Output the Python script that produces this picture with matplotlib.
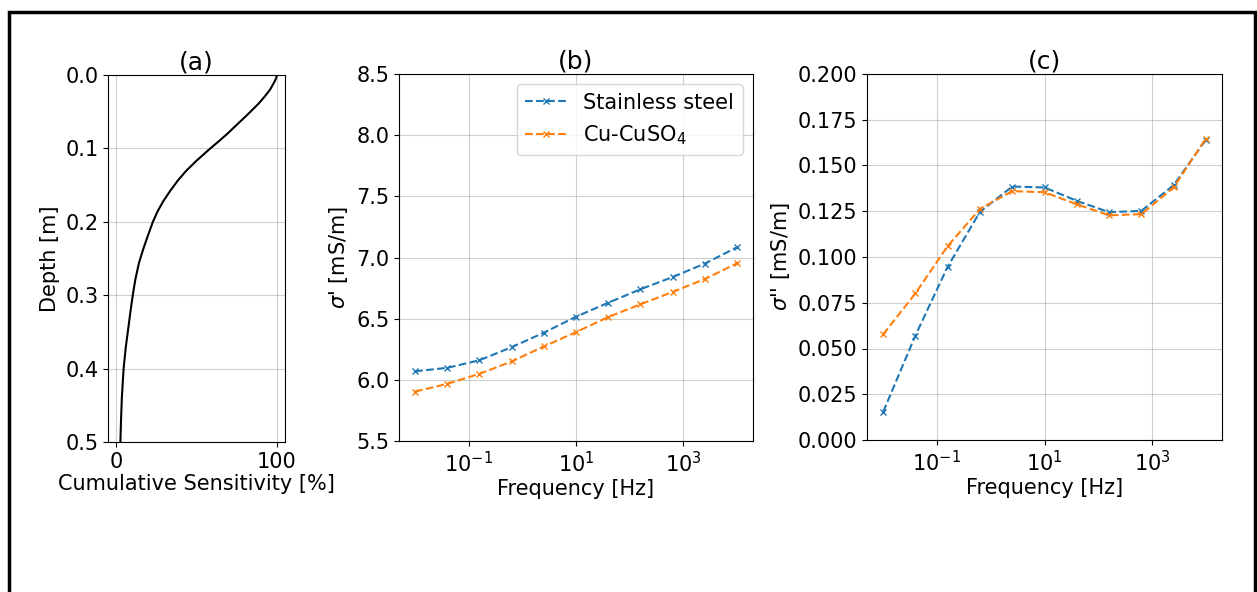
import numpy as np
import matplotlib
matplotlib.use("Agg")
import matplotlib.pyplot as plt
from matplotlib.patches import Rectangle

# (a) cumulative sensitivity vs depth
depth = [0.0, 0.005, 0.011, 0.020, 0.029, 0.0385, 0.0477, 0.0569, 0.066, 0.080,
         0.090, 0.1, 0.117, 0.1305, 0.144, 0.158, 0.1714, 0.185, 0.2, 0.2188,
         0.2372, 0.2555, 0.2784, 0.3, 0.32, 0.34, 0.37, 0.4, 0.44, 0.47, 0.5]
sens = [100.0, 99.4, 98.0, 95.7, 92.5, 88.8, 84.6, 80.3, 75.9, 69.2,
        64.0, 58.6, 49.9, 43.6, 38.3, 33.6, 29.5, 26.0, 22.9, 19.8,
        16.9, 14.3, 12.0, 10.4, 9.1, 7.9, 6.1, 4.7, 3.6, 3.1, 2.7]

# (b), (c) spectra
freq = [0.01, 0.0398, 0.158, 0.631, 2.51, 10.0, 39.8, 158.0, 631.0, 2512.0, 10000.0]
re_steel = [6.07, 6.098, 6.16, 6.267, 6.385, 6.516, 6.63, 6.74, 6.84, 6.95, 7.083]
re_cu = [5.904, 5.967, 6.049, 6.15, 6.273, 6.39, 6.513, 6.617, 6.718, 6.824, 6.952]
im_steel = [0.0153, 0.0571, 0.0946, 0.1247, 0.1385, 0.138, 0.1307, 0.1245, 0.1252, 0.1392, 0.1641]
im_cu = [0.0577, 0.0801, 0.1059, 0.1263, 0.136, 0.1354, 0.1288, 0.1228, 0.1234, 0.138, 0.1647]

plt.rcParams['font.size'] = 15
plt.rcParams['grid.alpha'] = 0.6

fig = plt.figure(figsize=(12.57, 5.92), dpi=100)
W, H = 1257, 592

def add_ax(l, r, t, b):
    return fig.add_axes([l / W, 1 - b / H, (r - l) / W, (b - t) / H])

ax1 = add_ax(108, 285, 75, 442)
ax2 = add_ax(399, 753, 74, 441)
ax3 = add_ax(867, 1222, 74, 440)

ax1.plot(sens, depth, color='k', lw=1.5)
ax1.set_ylim(0.5, 0.0)
ax1.set_xlim(-5, 105)
ax1.set_xticks([0, 100])
ax1.set_xlabel('Cumulative Sensitivity [%]', labelpad=2)
ax1.set_ylabel('Depth [m]')
ax1.set_title('(a)', pad=4)
ax1.grid(True)

ax2.plot(freq, re_steel, '--x', color='C0', ms=5, lw=1.5, label='Stainless steel')
ax2.plot(freq, re_cu, '--x', color='C1', ms=5, lw=1.5, label='Cu-CuSO$_4$')
ax2.set_xscale('log')
ax2.set_ylim(5.5, 8.5)
ax2.set_xlabel('Frequency [Hz]', labelpad=2)
ax2.set_ylabel(r"$\sigma$' [mS/m]")
ax2.set_title('(b)', pad=4)
ax2.legend(loc='upper right')
ax2.grid(True)

ax3.plot(freq, im_steel, '--x', color='C0', ms=5, lw=1.5)
ax3.plot(freq, im_cu, '--x', color='C1', ms=5, lw=1.5)
ax3.set_xscale('log')
ax3.set_ylim(0, 0.2)
ax3.set_yticks(np.arange(0, 0.201, 0.025))
ax3.set_xlabel('Frequency [Hz]', labelpad=2)
ax3.set_ylabel(r"$\sigma$'' [mS/m]")
ax3.set_title('(c)', pad=4)
ax3.grid(True)

for ax in (ax2, ax3):
    ax.set_xticks([0.1, 10, 1000])
    ax.minorticks_off()

# black frame around the figure (bottom edge is cut off)
fig.patches.append(Rectangle((8.5 / W, -0.05), (1254.5 - 8.5) / W, 1.05 - 11.5 / H,
                             transform=fig.transFigure, fill=False,
                             edgecolor='k', lw=2.5))

fig.savefig('out.png', dpi=100)
